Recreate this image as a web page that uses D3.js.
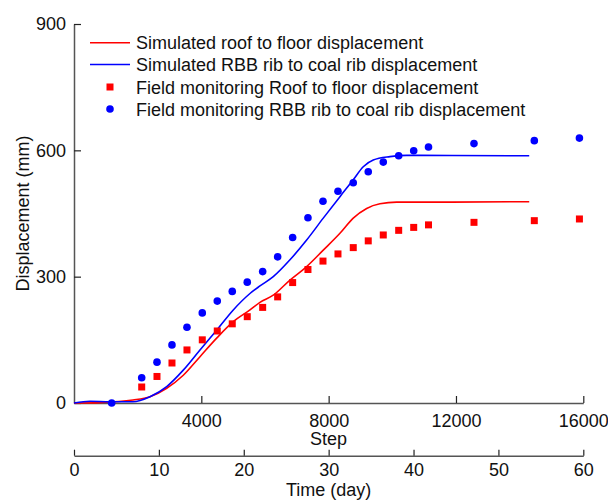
<!DOCTYPE html>
<html>
<head>
<meta charset="utf-8">
<script src="https://cdn.jsdelivr.net/npm/d3@7"></script>
<style>
  html, body { margin: 0; padding: 0; background: #fff; }
  svg { display: block; font-family: "Liberation Sans", Arial, sans-serif; }
</style>
</head>
<body>
<svg id="chart" width="608" height="501"></svg>
<script>
// ---- data ----
const simRoofSteps = [0, 817, 1853, 2387, 2912, 3433, 3958, 4482, 5004, 5528, 5842, 6260, 6785, 7309, 7831, 8355, 8773, 9194, 9611, 10136, 10868, 14301];
const simRoofValues = [0, 1, 7, 15, 35, 66, 110, 154, 193, 221, 239, 256, 292, 324, 363, 403, 439, 462, 473, 477, 477, 478];

const simRibSteps = [0, 503, 1131, 1853, 2387, 2912, 3433, 3958, 4482, 5004, 5528, 5842, 6260, 6785, 7309, 7831, 8355, 8773, 9087, 9401, 9926, 10450, 10868, 14301];
const simRibValues = [0, 4, 3, 3, 15, 39, 78, 126, 173, 221, 260, 278, 300, 340, 387, 439, 490, 530, 561, 577, 585, 588, 588, 587];

const fieldRoofSteps = [2127, 2607, 3078, 3549, 4030, 4501, 4972, 5443, 5927, 6398, 6869, 7350, 7822, 8293, 8773, 9244, 9716, 10200, 10672, 11137, 12566, 14461, 15878];
const fieldRoofValues = [38, 63, 95, 126, 150, 171, 188, 205, 227, 252, 286, 317, 337, 354, 369, 385, 399, 410, 417, 423, 429, 433, 437];

const fieldRibSteps = [1184, 2127, 2607, 3078, 3549, 4030, 4501, 4972, 5443, 5927, 6398, 6869, 7350, 7822, 8293, 8773, 9244, 9716, 10200, 10672, 11137, 12566, 14461, 15878];
const fieldRibValues = [0, 60, 97, 138, 180, 214, 242, 265, 287, 312, 347, 393, 440, 479, 503, 523, 549, 572, 587, 599, 608, 616, 623, 629];

const yTicks = [0, 300, 600, 900];
const stepTicks = [4000, 8000, 12000, 16000];
const dayTicks = [0, 10, 20, 30, 40, 50, 60];

const legendLabels = [
  "Simulated roof to floor displacement",
  "Simulated RBB rib to coal rib displacement",
  "Field monitoring Roof to floor displacement",
  "Field monitoring RBB rib to coal rib displacement"
];

// ---- drawing ----
const svg = d3.select("#chart");
const RED = "#ff0000", BLUE = "#0000ff", AX = "#555555";
const FS = 18;

const x = d3.scaleLinear().domain([0, 16000]).range([74, 583.3]);
const xDay = d3.scaleLinear().domain([0, 60]).range([74, 583.3]);
const y = d3.scaleLinear().domain([0, 900]).range([403, 24]);

function styleAxis(g) {
  g.selectAll("path.domain").attr("stroke", AX).attr("stroke-width", 1.5);
  g.selectAll(".tick line").attr("stroke", "#222").attr("stroke-width", 1.2);
  g.selectAll(".tick text").attr("fill", "#111").style("font-size", FS + "px")
    .style("font-family", '"Liberation Sans", Arial, sans-serif');
}

// y axis
const gy = svg.append("g").attr("transform", "translate(74,0)")
  .call(d3.axisLeft(y).tickValues(yTicks).tickSizeInner(-7).tickSizeOuter(0).tickPadding(8).tickFormat(d3.format("d")));
styleAxis(gy);

// step axis
const gx = svg.append("g").attr("transform", "translate(0,403)")
  .call(d3.axisBottom(x).tickValues(stepTicks).tickSizeInner(-7).tickSizeOuter(0).tickPadding(11).tickFormat(d3.format("d")));
styleAxis(gx);

// time axis
const gt = svg.append("g").attr("transform", "translate(0,455.7)")
  .call(d3.axisBottom(xDay).tickValues(dayTicks).tickSizeInner(-6).tickSizeOuter(0).tickPadding(8).tickFormat(d3.format("d")));
styleAxis(gt);

// axis titles
svg.append("text").attr("x", 328.6).attr("y", 445).attr("text-anchor", "middle")
  .style("font-size", FS + "px").attr("fill", "#111").text("Step");
svg.append("text").attr("x", 328.6).attr("y", 495.5).attr("text-anchor", "middle")
  .style("font-size", FS + "px").attr("fill", "#111").text("Time (day)");
svg.append("text").attr("transform", "translate(29,213.5) rotate(-90)").attr("text-anchor", "middle")
  .style("font-size", FS + "px").attr("fill", "#111").text("Displacement (mm)");

// simulated lines
const line = d3.line().x(d => x(d[0])).y(d => y(d[1])).curve(d3.curveMonotoneX);
svg.append("path").datum(d3.zip(simRoofSteps, simRoofValues))
  .attr("d", line).attr("fill", "none").attr("stroke", RED).attr("stroke-width", 1.6);
svg.append("path").datum(d3.zip(simRibSteps, simRibValues))
  .attr("d", line).attr("fill", "none").attr("stroke", BLUE).attr("stroke-width", 1.6);

// field markers
const SQ = 7;
svg.append("g").selectAll("rect").data(d3.zip(fieldRoofSteps, fieldRoofValues)).join("rect")
  .attr("x", d => x(d[0]) - SQ / 2).attr("y", d => y(d[1]) - SQ / 2)
  .attr("width", SQ).attr("height", SQ).attr("fill", RED);
svg.append("g").selectAll("circle").data(d3.zip(fieldRibSteps, fieldRibValues)).join("circle")
  .attr("cx", d => x(d[0])).attr("cy", d => y(d[1])).attr("r", 3.8).attr("fill", BLUE);

// legend
const lg = svg.append("g");
const rows = [42.7, 64.5, 87, 109];
lg.append("line").attr("x1", 90).attr("x2", 130).attr("y1", rows[0]).attr("y2", rows[0]).attr("stroke", RED).attr("stroke-width", 1.4);
lg.append("line").attr("x1", 90).attr("x2", 130).attr("y1", rows[1]).attr("y2", rows[1]).attr("stroke", BLUE).attr("stroke-width", 1.4);
lg.append("rect").attr("x", 110 - SQ / 2).attr("y", rows[2] - SQ / 2).attr("width", SQ).attr("height", SQ).attr("fill", RED);
lg.append("circle").attr("cx", 110).attr("cy", rows[3]).attr("r", 3.8).attr("fill", BLUE);
legendLabels.forEach((t, i) => {
  lg.append("text").attr("x", 136).attr("y", rows[i] + 6.5)
    .style("font-size", FS + "px").attr("fill", "#111").text(t);
});
</script>
</body>
</html>
